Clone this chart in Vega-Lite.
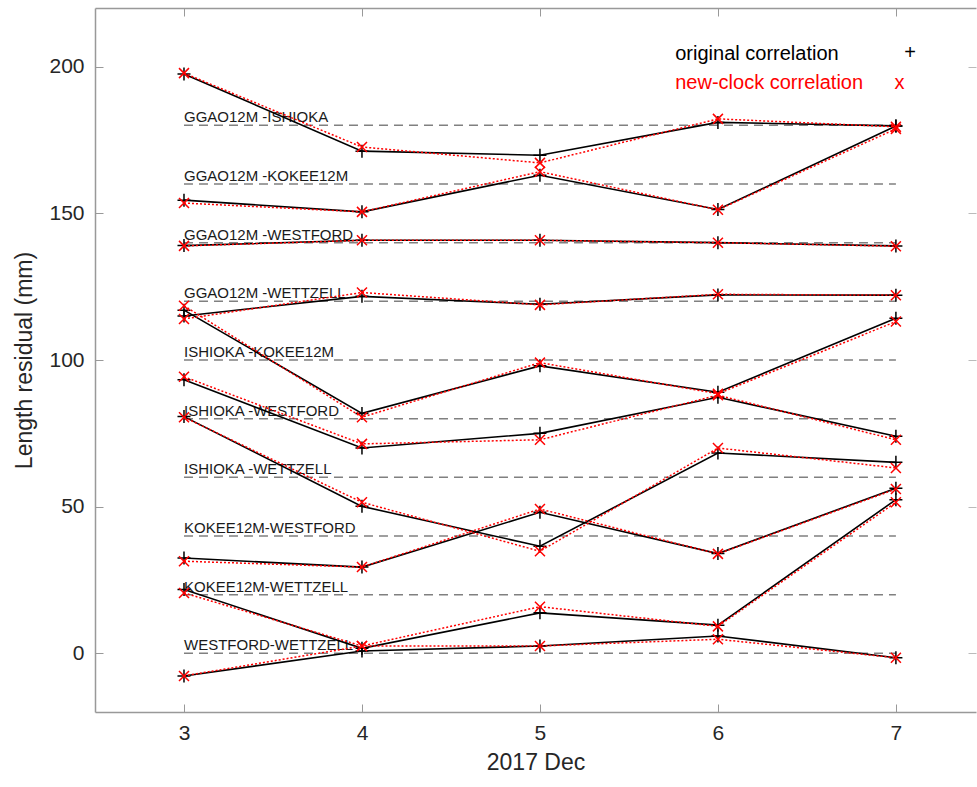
{
  "$schema": "https://vega.github.io/schema/vega-lite/v6.json",
  "width": 881,
  "height": 704,
  "autosize": {"type": "none"},
  "padding": {"left": 95, "top": 8, "right": 1, "bottom": 75},
  "background": "white",
  "config": {"view": {"stroke": null}, "font": "Liberation Sans"},
  "datasets": {
    "baselines": [
      {"b": "GI", "label": "GGAO12M -ISHIOKA", "off": 180},
      {"b": "GK", "label": "GGAO12M -KOKEE12M", "off": 160},
      {"b": "GWF", "label": "GGAO12M -WESTFORD", "off": 140},
      {"b": "GWZ", "label": "GGAO12M -WETTZELL", "off": 120},
      {"b": "IK", "label": "ISHIOKA -KOKEE12M", "off": 100},
      {"b": "IWF", "label": "ISHIOKA -WESTFORD", "off": 80},
      {"b": "IWZ", "label": "ISHIOKA -WETTZELL", "off": 60},
      {"b": "KWF", "label": "KOKEE12M-WESTFORD", "off": 40},
      {"b": "KWZ", "label": "KOKEE12M-WETTZELL", "off": 20},
      {"b": "WW", "label": "WESTFORD-WETTZELL", "off": 0}
    ],
    "res": [
      {"b": "GI", "day": 3, "orig": 197.5, "neu": 197.8},
      {"b": "GI", "day": 4, "orig": 171.2, "neu": 172.6},
      {"b": "GI", "day": 5, "orig": 169.8, "neu": 167.2},
      {"b": "GI", "day": 6, "orig": 181.0, "neu": 182.2},
      {"b": "GI", "day": 7, "orig": 179.8, "neu": 179.5},
      {"b": "GK", "day": 3, "orig": 154.5, "neu": 153.5},
      {"b": "GK", "day": 4, "orig": 150.5, "neu": 150.5},
      {"b": "GK", "day": 5, "orig": 163.0, "neu": 164.2},
      {"b": "GK", "day": 6, "orig": 151.3, "neu": 151.2},
      {"b": "GK", "day": 7, "orig": 179.8, "neu": 178.8},
      {"b": "GWF", "day": 3, "orig": 139.0, "neu": 138.9},
      {"b": "GWF", "day": 4, "orig": 140.8, "neu": 140.8},
      {"b": "GWF", "day": 5, "orig": 140.8, "neu": 140.8},
      {"b": "GWF", "day": 6, "orig": 140.0, "neu": 140.0},
      {"b": "GWF", "day": 7, "orig": 138.9, "neu": 138.8},
      {"b": "GWZ", "day": 3, "orig": 115.0, "neu": 114.0},
      {"b": "GWZ", "day": 4, "orig": 121.7, "neu": 123.0},
      {"b": "GWZ", "day": 5, "orig": 119.0, "neu": 118.8},
      {"b": "GWZ", "day": 6, "orig": 122.2, "neu": 122.4},
      {"b": "GWZ", "day": 7, "orig": 122.1, "neu": 122.1},
      {"b": "IK", "day": 3, "orig": 117.0, "neu": 118.5},
      {"b": "IK", "day": 4, "orig": 81.8, "neu": 80.5},
      {"b": "IK", "day": 5, "orig": 98.0, "neu": 99.1},
      {"b": "IK", "day": 6, "orig": 89.0, "neu": 88.5},
      {"b": "IK", "day": 7, "orig": 114.2, "neu": 113.1},
      {"b": "IWF", "day": 3, "orig": 93.3, "neu": 94.3},
      {"b": "IWF", "day": 4, "orig": 70.0, "neu": 71.4},
      {"b": "IWF", "day": 5, "orig": 75.0, "neu": 72.8},
      {"b": "IWF", "day": 6, "orig": 87.3, "neu": 88.0},
      {"b": "IWF", "day": 7, "orig": 74.0, "neu": 72.8},
      {"b": "IWZ", "day": 3, "orig": 80.7, "neu": 80.5},
      {"b": "IWZ", "day": 4, "orig": 50.1, "neu": 51.5},
      {"b": "IWZ", "day": 5, "orig": 36.5, "neu": 34.8},
      {"b": "IWZ", "day": 6, "orig": 68.3, "neu": 70.0},
      {"b": "IWZ", "day": 7, "orig": 65.1, "neu": 63.2},
      {"b": "KWF", "day": 3, "orig": 32.5, "neu": 31.4},
      {"b": "KWF", "day": 4, "orig": 29.4, "neu": 29.4},
      {"b": "KWF", "day": 5, "orig": 48.1, "neu": 49.2},
      {"b": "KWF", "day": 6, "orig": 34.0, "neu": 33.9},
      {"b": "KWF", "day": 7, "orig": 56.3, "neu": 56.0},
      {"b": "KWZ", "day": 3, "orig": 21.8, "neu": 20.6},
      {"b": "KWZ", "day": 4, "orig": 1.7, "neu": 2.5},
      {"b": "KWZ", "day": 5, "orig": 13.8, "neu": 15.9},
      {"b": "KWZ", "day": 6, "orig": 9.6, "neu": 9.2},
      {"b": "KWZ", "day": 7, "orig": 52.4, "neu": 51.5},
      {"b": "WW", "day": 3, "orig": -7.7, "neu": -7.7},
      {"b": "WW", "day": 4, "orig": 0.8, "neu": 2.5},
      {"b": "WW", "day": 5, "orig": 2.5, "neu": 2.5},
      {"b": "WW", "day": 6, "orig": 5.9, "neu": 4.8},
      {"b": "WW", "day": 7, "orig": -1.5, "neu": -1.5}
    ]
  },
  "resolve": {"axis": {"x": "independent", "y": "independent"}},
  "layer": [
    {
      "data": {"name": "baselines"},
      "mark": {"type": "rule", "color": "#808080", "strokeWidth": 1.5, "strokeDash": [9, 6]},
      "encoding": {
        "x": {"datum": 3, "type": "quantitative", "scale": {"domain": [2.5, 7.45], "nice": false, "zero": false}, "axis": null},
        "x2": {"datum": 7},
        "y": {"field": "off", "type": "quantitative", "scale": {"domain": [-20, 220], "nice": false, "zero": false}, "axis": null}
      }
    },
    {
      "data": {"name": "baselines"},
      "mark": {"type": "text", "align": "left", "baseline": "alphabetic", "dy": -3, "fontSize": 15, "color": "#1a1a1a"},
      "encoding": {
        "x": {"datum": 3, "type": "quantitative", "axis": null},
        "y": {"field": "off", "type": "quantitative", "axis": null},
        "text": {"field": "label"}
      }
    },
    {
      "data": {"name": "res"},
      "mark": {"type": "line", "color": "#000000", "strokeWidth": 1.6},
      "encoding": {
        "x": {"field": "day", "type": "quantitative", "axis": {"orient": "bottom", "values": [3, 4, 5, 6, 7], "title": "2017 Dec", "titleFontSize": 23, "titleFontWeight": "normal", "titleColor": "#262626", "labelFontSize": 21, "labelColor": "#262626", "tickSize": -8, "tickColor": "#999999", "domainColor": "#999999", "domainWidth": 1.5, "labelPadding": 18, "titlePadding": 8, "grid": false}},
        "y": {"field": "orig", "type": "quantitative", "axis": {"orient": "left", "values": [0, 50, 100, 150, 200], "title": "Length residual (mm)", "titleFontSize": 23, "titleFontWeight": "normal", "titleColor": "#262626", "labelFontSize": 21, "labelColor": "#262626", "tickSize": -8, "tickColor": "#999999", "domainColor": "#999999", "domainWidth": 1.5, "labelPadding": 19, "titlePadding": 12, "grid": false}},
        "detail": {"field": "b"}
      }
    },
    {
      "data": {"name": "res"},
      "mark": {"type": "point", "shape": "M-1,0L1,0M0,-1L0,1", "filled": false, "stroke": "#000000", "strokeWidth": 1.5, "size": 169, "opacity": 1},
      "encoding": {
        "x": {"field": "day", "type": "quantitative", "axis": {"orient": "top", "values": [3, 4, 5, 6, 7], "labels": false, "title": null, "tickSize": -8, "tickColor": "#999999", "domainColor": "#999999", "domainWidth": 1.5, "grid": false}},
        "y": {"field": "orig", "type": "quantitative", "axis": {"orient": "right", "values": [0, 50, 100, 150, 200], "labels": false, "title": null, "domain": false, "tickSize": -8, "tickColor": "#bbbbbb", "grid": false}}
      }
    },
    {
      "data": {"name": "res"},
      "mark": {"type": "line", "color": "#ff0000", "strokeWidth": 1.5, "strokeDash": [2, 2]},
      "encoding": {
        "x": {"field": "day", "type": "quantitative", "axis": null},
        "y": {"field": "neu", "type": "quantitative", "axis": null},
        "detail": {"field": "b"}
      }
    },
    {
      "data": {"name": "res"},
      "mark": {"type": "point", "shape": "M-1,-1L1,1M-1,1L1,-1", "filled": false, "stroke": "#ff0000", "strokeWidth": 1.5, "size": 100, "opacity": 1},
      "encoding": {
        "x": {"field": "day", "type": "quantitative", "axis": null},
        "y": {"field": "neu", "type": "quantitative", "axis": null}
      }
    },
    {
      "data": {"values": [{"t": "original correlation"}]},
      "mark": {"type": "text", "align": "left", "baseline": "middle", "fontSize": 20, "color": "#000000"},
      "encoding": {
        "x": {"datum": 5.76, "type": "quantitative", "axis": null},
        "y": {"datum": 204.2, "type": "quantitative", "axis": null},
        "text": {"field": "t"}
      }
    },
    {
      "data": {"values": [{"t": "+"}]},
      "mark": {"type": "text", "align": "center", "baseline": "middle", "fontSize": 20, "color": "#000000"},
      "encoding": {
        "x": {"datum": 7.08, "type": "quantitative", "axis": null},
        "y": {"datum": 204.6, "type": "quantitative", "axis": null},
        "text": {"field": "t"}
      }
    },
    {
      "data": {"values": [{"t": "new-clock correlation"}]},
      "mark": {"type": "text", "align": "left", "baseline": "middle", "fontSize": 20, "color": "#ff0000"},
      "encoding": {
        "x": {"datum": 5.76, "type": "quantitative", "axis": null},
        "y": {"datum": 194.4, "type": "quantitative", "axis": null},
        "text": {"field": "t"}
      }
    },
    {
      "data": {"values": [{"t": "x"}]},
      "mark": {"type": "text", "align": "center", "baseline": "middle", "fontSize": 20, "color": "#ff0000"},
      "encoding": {
        "x": {"datum": 7.02, "type": "quantitative", "axis": null},
        "y": {"datum": 194.6, "type": "quantitative", "axis": null},
        "text": {"field": "t"}
      }
    }
  ]
}
